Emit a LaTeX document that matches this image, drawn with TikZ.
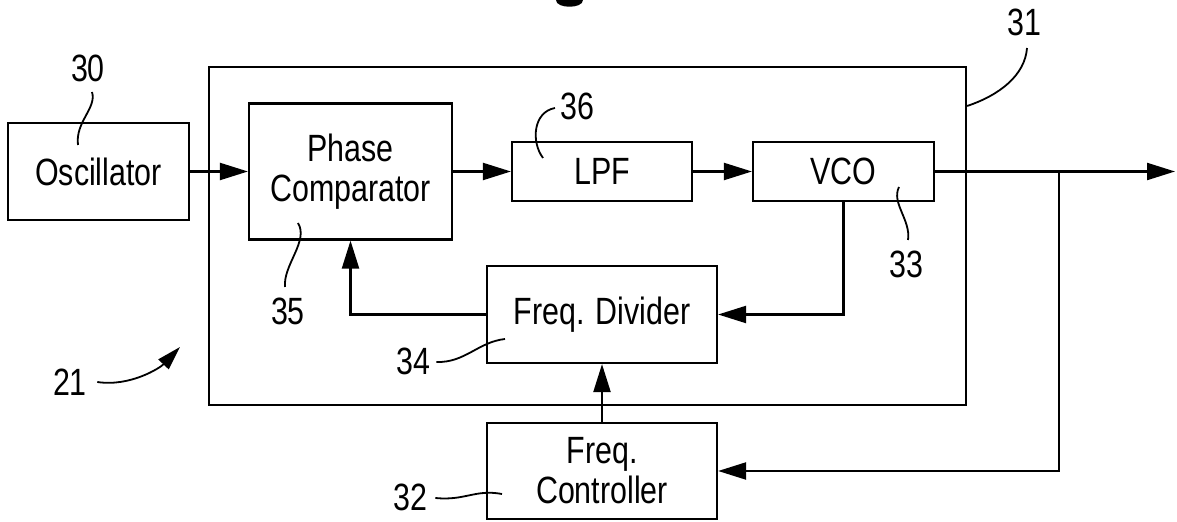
\documentclass[tikz,border=0pt]{standalone}
\usepackage{fontspec}
\setmainfont{Liberation Sans}[FakeStretch=0.8]
\usetikzlibrary{arrows.meta}

\begin{document}
\begin{tikzpicture}[x=0.5pt,y=-0.5pt,
	blk/.style={draw, line width=1.1pt, inner sep=0pt, align=center, font=\fontsize{19}{20}\selectfont},
	lbl/.style={inner sep=0pt, font=\fontsize{19}{20}\selectfont},
	sig/.style={line width=1.1pt, -{Triangle[length=14pt,width=8.5pt]}},
	ldr/.style={line width=0.9pt}]
	\useasboundingbox (0,0) rectangle (1177,522);
	
	% 顶部残缺图号
	\fill (556,0) .. controls (556,9) and (583,9) .. (583,0) -- cycle;
	
	% 绘制外框 31
	\node[blk, minimum width=378.5pt, minimum height=169pt] (pll) at (587.5,236) {};
	
	% 绘制各方框
	\node[blk, minimum width=90.5pt, minimum height=48.5pt] (osc) at (98.5,171.5) {Oscillator};
	\node[blk, minimum width=101.5pt, minimum height=68pt] (pc) at (350.5,171.5) {Phase\\Comparator};
	\node[blk, minimum width=90pt, minimum height=29.5pt] (lpf) at (602,171.5) {LPF};
	\node[blk, minimum width=90.5pt, minimum height=29.5pt] (vco) at (843.5,171.5) {VCO};
	\node[blk, minimum width=115pt, minimum height=48.5pt] (div) at (602,314.5) {Freq. Divider};
	\node[blk, minimum width=115pt, minimum height=48pt] (ctrl) at (602,471) {Freq.\\Controller};
	
	% 绘制信号线
	\coordinate (br) at (1059,171.5);
	\coordinate (out) at (1175,171.5);
	\draw[sig] (osc.east) -- (pc.west);
	\draw[sig] (pc.east) -- (lpf.west);
	\draw[sig] (lpf.east) -- (vco.west);
	\draw[sig] (vco.east) -- (out);
	\draw[sig] (vco.south) |- (div.east);
	\draw[sig] (div.west) -| (pc.south);
	\draw[sig] (br) |- (ctrl.east);
	\draw[sig] (ctrl.north) -- (div.south);
	
	% 绘制标号及引线
	\node[lbl] (l30) at (88,68) {30};
	\draw[ldr] (92,92) .. controls (97,108) and (75,122) .. (78,145);
	\node[lbl] (l31) at (1024,22) {31};
	\draw[ldr] (pll.east |- 0,106) .. controls (1000,95) and (1025,75) .. (1027,48);
	\node[lbl] (l36) at (577,106) {36};
	\draw[ldr] (555,108) .. controls (533,112) and (531,142) .. (543,158);
	\node[lbl] (l35) at (288,311) {35};
	\draw[ldr] (298,223) .. controls (309,241) and (283,265) .. (285,287);
	\node[lbl] (l33) at (906,264) {33};
	\draw[ldr] (899,187) .. controls (891,203) and (911,220) .. (908,240);
	\node[lbl] (l34) at (413,361) {34};
	\draw[ldr] (l34.east) ++(6,1) .. controls (465,363) and (478,342) .. (505,339);
	\node[lbl] (l32) at (410,497) {32};
	\draw[ldr] (l32.east) ++(8,1) .. controls (465,501) and (475,489) .. (502,494);
	\node[lbl] (l21) at (70,382) {21};
	\draw[ldr, -{Triangle[length=12pt,width=7pt]}] (l21.east) ++(10,0) .. controls (130,387) and (160,368) .. (180,347);
\end{tikzpicture}
\end{document}
